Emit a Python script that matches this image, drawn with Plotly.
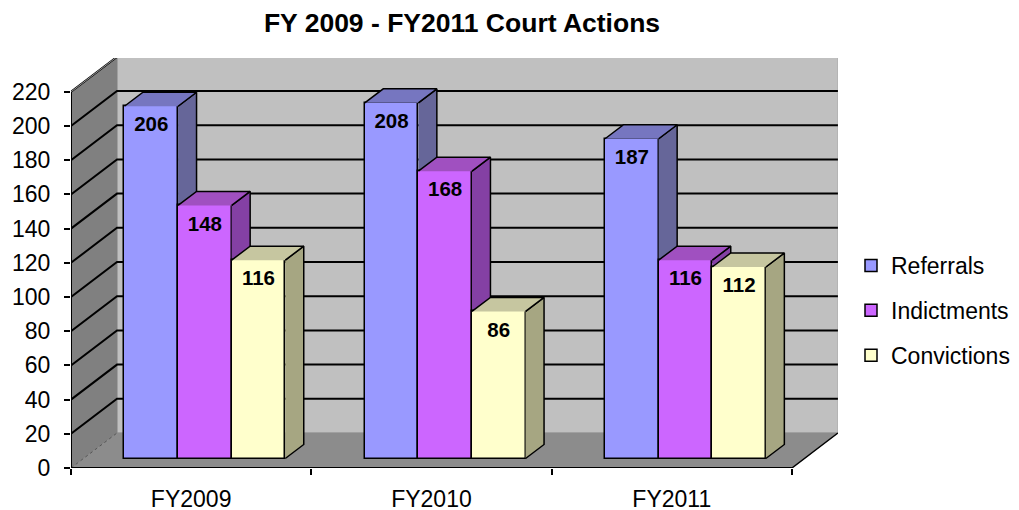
import plotly.graph_objects as go

categories = ["FY2009", "FY2010", "FY2011"]
referrals = [206, 208, 187]
indictments = [148, 168, 116]
convictions = [116, 86, 112]
y_ticks = list(range(0, 221, 20))
title_text = "FY 2009 - FY2011 Court Actions"

FONT = "Liberation Sans, Arial, sans-serif"
PAGE = 8  # page body margin in front of the figure
X0, X1, Y_B, Y_T = 71.0, 838.0, 468.0, 58.0
PX_X = 240.3
PX_Y = 1.71
xr = [-0.5, -0.5 + (X1 - X0) / PX_X]
yr = [0, (Y_B - Y_T) / PX_Y]
WDX, WDY = 46 / PX_X, 35 / PX_Y      # wall depth
BDX, BDY = 18.5 / PX_X, 14 / PX_Y    # bar depth
SHX, SHY = 13.7 / PX_X, 9.5 / PX_Y   # bar inset from the front of the floor
BW = 53.6 / PX_X
LBL = 20 / PX_Y
XN = len(categories) - 0.5

series = [
    ("Referrals", referrals, "#9999FF", "#666699", "#7676C0"),
    ("Indictments", indictments, "#CC66FF", "#8440A4", "#A050C0"),
    ("Convictions", convictions, "#FFFFCC", "#A6A682", "#C6C6A0"),
]

fig = go.Figure()


def poly(xs, ys, fill, line="black", width=1.5, xa="x", ya="y"):
    fig.add_trace(go.Scatter(
        x=xs, y=ys, mode="lines", fill="toself", fillcolor=fill,
        line=dict(color=line, width=width), showlegend=False, hoverinfo="skip",
        xaxis=xa, yaxis=ya, cliponaxis=False))


def seg(xs, ys, color="black", width=2, dash=None):
    fig.add_trace(go.Scatter(
        x=xs, y=ys, mode="lines", line=dict(color=color, width=width, dash=dash),
        showlegend=False, hoverinfo="skip", cliponaxis=False))


# walls and floor
poly([-0.5 + WDX, XN + WDX, XN + WDX, -0.5 + WDX], [WDY, WDY, 220 + WDY, 220 + WDY], "#C0C0C0", "#A8A8A8", 1)
poly([-0.5, -0.5 + WDX, -0.5 + WDX, -0.5], [0, WDY, 220 + WDY, 220], "#808080", "#808080", 1)
poly([-0.5, XN, XN + WDX, -0.5 + WDX], [0, 0, WDY, WDY], "#8C8C8C", "#8C8C8C", 1)
for v in y_ticks[1:]:
    seg([-0.5, -0.5 + WDX, XN + WDX], [v, v + WDY, v + WDY])
seg([-0.5 + WDX, XN + WDX], [220 + WDY, 220 + WDY])
seg([-0.5, -0.5 + WDX], [0, WDY], "#555555", 1, "dot")
seg([-0.5, -0.5 + WDX], [220, 220 + WDY], "#999999", 1)
seg([-0.5, -0.5], [0, 220])
seg([-0.5, XN], [0, 0])
seg([XN, XN + WDX], [0, WDY], "black", 1.5)

# bars, left to right, each series on its own overlaid axes pair
for k, (name, vals, front, side, top) in enumerate(series):
    xa, ya = f"x{k + 2}", f"y{k + 2}"
    cx = [i + SHX + (k - 1) * BW for i in range(len(vals))]
    fig.add_trace(go.Bar(
        x=cx, y=vals, base=[SHY] * len(vals), width=BW, name=name,
        marker=dict(color=front, line=dict(color="black", width=1.5)),
        xaxis=xa, yaxis=ya, legendgroup=name))
    for c, v in zip(cx, vals):
        l, r, t = c - BW / 2, c + BW / 2, SHY + v
        poly([r, r + BDX, r + BDX, r], [t, t + BDY, SHY + BDY, SHY], side, xa=xa, ya=ya)
        poly([l, l + BDX, r + BDX, r], [t, t + BDY, t + BDY, t], top, xa=xa, ya=ya)

# value labels on the top layer
for k, (name, vals, *_rest) in enumerate(series):
    cx = [i + SHX + (k - 1) * BW for i in range(len(vals))]
    fig.add_trace(go.Scatter(
        x=cx, y=[SHY + v - LBL for v in vals], mode="text", text=[str(v) for v in vals],
        textposition="middle center", textfont=dict(family=FONT, size=20.5, color="black", weight="bold"),
        showlegend=False, hoverinfo="skip", xaxis="x4", yaxis="y4", cliponaxis=False))

layout = dict(
    width=1019, height=510, autosize=False,
    paper_bgcolor="white", plot_bgcolor="white",
    margin=dict(l=X0 - PAGE, r=1019 - (X1 - PAGE), t=Y_T - PAGE, b=510 - (Y_B - PAGE), pad=0, autoexpand=False),
    bargap=0, showlegend=True,
    title=dict(text=f"<b>{title_text}</b>", x=454 / 1019, xanchor="center", y=0.972, yanchor="middle",
               font=dict(family=FONT, size=26.5, color="black")),
    legend=dict(x=(851 - X0) / (X1 - X0), xanchor="left", y=(Y_B - 244) / (Y_B - Y_T), yanchor="top",
                font=dict(family=FONT, size=23, color="black"), tracegroupgap=12,
                bgcolor="rgba(0,0,0,0)"),
    xaxis=dict(range=xr, tickmode="array", tickvals=list(range(len(categories))), ticktext=categories,
               ticks="", showgrid=False, zeroline=False, showline=False, ticklen=0,
               ticklabelstandoff=15, automargin=False,
               tickfont=dict(family=FONT, size=23, color="black"),
               minor=dict(tickmode="array", tickvals=[i - 0.5 for i in range(len(categories) + 1)],
                          ticks="outside", ticklen=6, tickcolor="black", tickwidth=1.5, showgrid=False)),
    yaxis=dict(range=yr, tickmode="array", tickvals=y_ticks, ticktext=[str(v) for v in y_ticks],
               ticks="outside", ticklen=6, tickcolor="black", tickwidth=1.5, showgrid=False,
               zeroline=False, showline=False, ticklabelstandoff=9, automargin=False,
               tickfont=dict(family=FONT, size=23, color="black")),
)
for n in (2, 3, 4):
    layout[f"xaxis{n}"] = dict(range=xr, overlaying="x", visible=False, matches="x")
    layout[f"yaxis{n}"] = dict(range=yr, overlaying="y", visible=False, matches="y")
fig.update_layout(**layout)
fig.write_html("out.html")
